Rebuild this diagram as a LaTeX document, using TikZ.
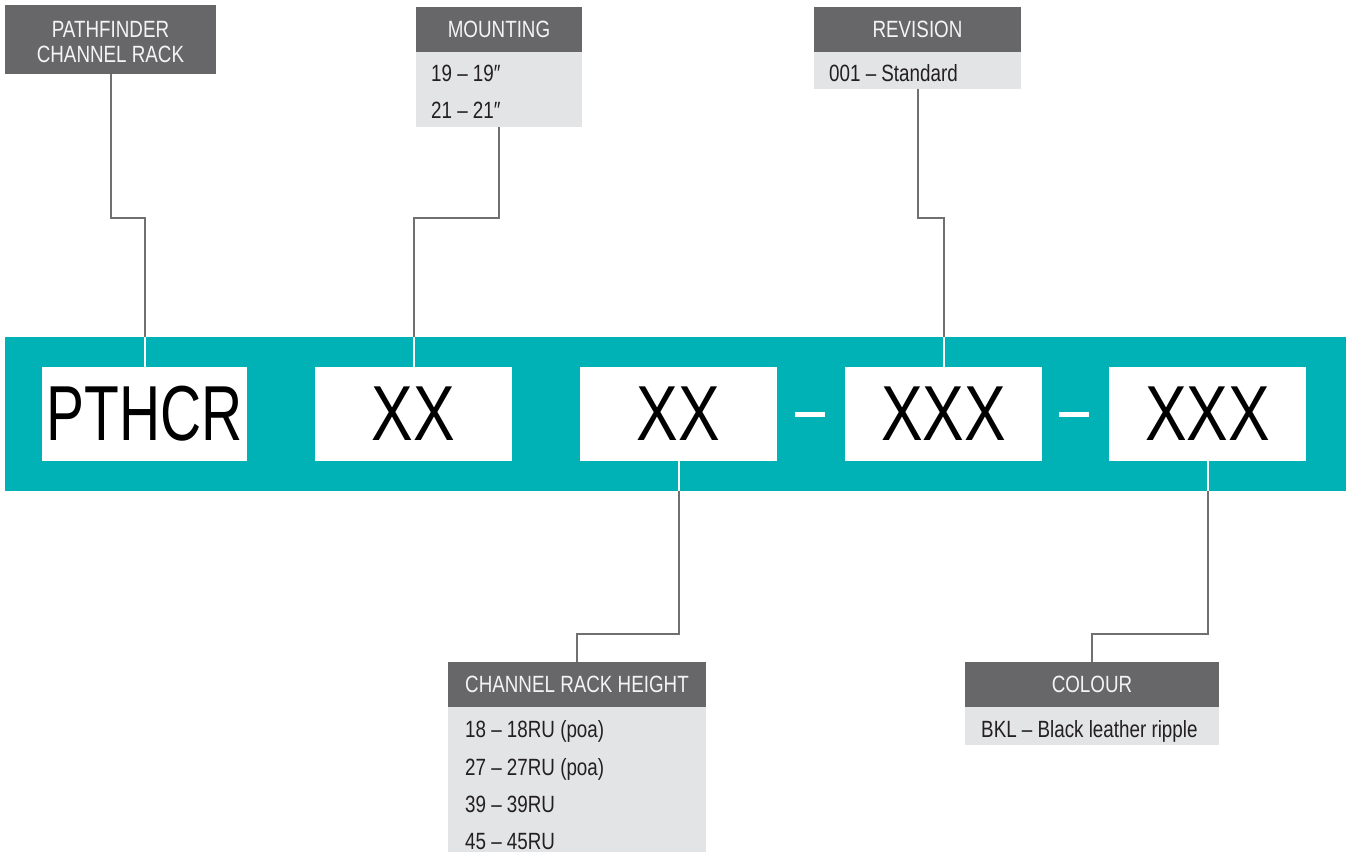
\documentclass[tikz,border=0pt]{standalone}
\usepackage{fontspec}
\setmainfont{Liberation Sans}
\newfontfamily\labfont{Liberation Sans}[FakeStretch=0.8]
\newfontfamily\bigfont{Liberation Sans}[FakeStretch=0.8]
\newfontfamily\bigfontn{Liberation Sans}[FakeStretch=0.73]
\definecolor{bandteal}{HTML}{00B2B5}
\definecolor{hdrgray}{HTML}{676669}
\definecolor{listgray}{HTML}{E3E4E6}
\definecolor{linegray}{HTML}{707073}
\definecolor{txtdark}{HTML}{231F20}
\definecolor{hdrtext}{HTML}{F4F4F4}
\begin{document}
\begin{tikzpicture}[x=1pt,y=-1pt,
  hdr/.style={fill=hdrgray,text=hdrtext,inner sep=0pt,font=\labfont\fontsize{23.5}{25}\selectfont,align=center},
  hdrtxt/.style={text=hdrtext,inner sep=0pt,font=\labfont\fontsize{23.5}{25}\selectfont,align=center},
  lst/.style={fill=listgray,inner sep=0pt},
  item/.style={anchor=base west,inner sep=0pt,text=txtdark,font=\labfont\fontsize{23.5}{25}\selectfont},
  code/.style={fill=white,inner sep=0pt,minimum width=197pt,minimum height=94pt,text=black,font=\bigfont\fontsize{78}{80}\selectfont},
  dashbar/.style={fill=white,minimum width=30pt,minimum height=5pt,inner sep=0pt},
  conn/.style={draw=linegray,line width=2pt},
  connw/.style={draw=white,line width=2pt}]
\useasboundingbox (0,0) rectangle (1346,852);
% band and code boxes
\node[fill=bandteal,minimum width=1341pt,minimum height=154pt,inner sep=0pt] (band) at (675.5,414) {};
\node[code,minimum width=205pt,font=\bigfontn\fontsize{78}{80}\selectfont] (b1) at (144.5,414) {PTHCR};
\node[code] (b2) at (413.5,414) {XX};
\node[code] (b3) at (678.5,414) {XX};
\node[code] (b4) at (943.5,414) {XXX};
\node[code] (b5) at (1207.5,414) {XXX};
\node[dashbar] (d1) at (810,414.5) {};
\node[dashbar] (d2) at (1073.5,414.5) {};
% label blocks
\node[hdr,minimum width=211pt,minimum height=69pt] (pf) at (110.5,39.5) {};
\node[hdrtxt] (pft) at (110.5,42) {PATHFINDER\\CHANNEL RACK};
\node[hdr,minimum width=166pt,minimum height=45pt] (mh) at (499,29.5) {MOUNTING};
\node[lst,minimum width=166pt,minimum height=75pt] (ml) at (499,89.5) {};
\node[item] (m1) at (431,81.5) {19 – 19″};
\node[item] (m2) at (431,118.5) {21 – 21″};
\node[hdr,minimum width=207pt,minimum height=45pt] (rh) at (917.5,29.5) {REVISION};
\node[lst,minimum width=207pt,minimum height=37pt] (rl) at (917.5,70.5) {};
\node[item] (r1) at (829,81.5) {001 – Standard};
\node[hdr,minimum width=258pt,minimum height=45pt] (ch) at (577,684.5) {CHANNEL RACK HEIGHT};
\node[lst,minimum width=258pt,minimum height=145pt] (cl) at (577,779.5) {};
\node[item] (c1) at (465,737) {18 – 18RU (poa)};
\node[item] (c2) at (465,775) {27 – 27RU (poa)};
\node[item] (c3) at (465,812) {39 – 39RU};
\node[item] (c4) at (465,849) {45 – 45RU};
\node[hdr,minimum width=254pt,minimum height=45pt] (co) at (1092,684.5) {COLOUR};
\node[lst,minimum width=254pt,minimum height=38pt] (cll) at (1092,726) {};
\node[item] (k1) at (981,737) {BKL – Black leather ripple};
% connectors
\coordinate (ytop) at (0,218);
\coordinate (ybot) at (0,634);
\draw[conn] (pf.south) |- (ytop -| b1.north) -- (b1.north |- band.north);
\draw[connw] (b1.north |- band.north) -- (b1.north);
\draw[conn] (ml.south) |- (ytop -| b2.north) -- (b2.north |- band.north);
\draw[connw] (b2.north |- band.north) -- (b2.north);
\draw[conn] (rl.south) |- (ytop -| b4.north) -- (b4.north |- band.north);
\draw[connw] (b4.north |- band.north) -- (b4.north);
\draw[connw] (b3.south) -- (b3.south |- band.south);
\draw[conn] (b3.south |- band.south) |- (ybot -| ch.north) -- (ch.north);
\draw[connw] (b5.south) -- (b5.south |- band.south);
\draw[conn] (b5.south |- band.south) |- (ybot -| co.north) -- (co.north);
\end{tikzpicture}
\end{document}
